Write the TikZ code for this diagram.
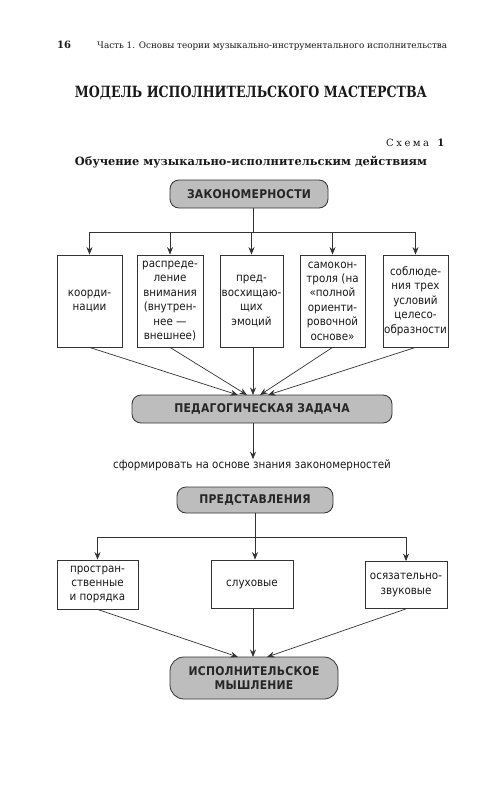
\documentclass[tikz,border=0pt]{standalone}
\usepackage{fontspec}
\setmainfont{DejaVu Sans}[FakeStretch=0.9]
\newfontfamily\hdrfont{DejaVu Serif}
\usetikzlibrary{arrows.meta}
\definecolor{boxgray}{HTML}{BDBDBD}
\definecolor{linegray}{HTML}{333333}
\tikzset{
  hdr/.style={font=\hdrfont, text=black!90, inner sep=0pt},
  txt/.style={font=\fontsize{11.5}{14.4}\selectfont, align=center, inner sep=0pt, text=black!90},
  plainbox/.style={draw=linegray, line width=0.8pt, align=center, inner sep=0pt,
    font=\fontsize{11.5}{14.4}\selectfont, text=black!90},
  capbox/.style={draw=linegray, fill=boxgray, line width=0.8pt, align=center, inner sep=0pt,
    font=\fontsize{12}{13.5}\selectfont\bfseries\addfontfeatures{LetterSpace=2}, text=black!85},
  conn/.style={draw=linegray, line width=0.7pt},
  arr/.style={conn, -{Stealth[length=7.5pt,width=6pt]}}
}
\begin{document}
\begin{tikzpicture}[x=1pt,y=-1pt]
\useasboundingbox (0,0) rectangle (500,800);
\fill[white] (0,0) rectangle (500,800);

% header
\node[hdr, anchor=west, font=\hdrfont\bfseries\fontsize{10}{11}\selectfont] (pg) at (57,45) {16};
\node[hdr, anchor=west] (run) at (97,46) {\resizebox{350pt}{!}{Часть 1. Основы теории музыкально-инструментального исполнительства}};
\node[hdr] (title) at (251,93) {\resizebox{352pt}{11.5pt}{\bfseries МОДЕЛЬ ИСПОЛНИТЕЛЬСКОГО МАСТЕРСТВА}};
\node[hdr, anchor=east, font=\hdrfont\fontsize{10}{12}\selectfont] (schema) at (447,143) {\addfontfeatures{LetterSpace=25}Схема\ \textbf{1}};
\node[hdr] (sub) at (251,162) {\resizebox{352pt}{!}{\bfseries Обучение музыкально-исполнительским действиям}};

% top
\node[capbox, rounded corners=9pt, minimum width=158pt, minimum height=28pt] (Z) at (249,194) {ЗАКОНОМЕРНОСТИ};

\node[plainbox, minimum width=65pt, minimum height=92pt] (b1) at (89.5,301) {коорди-\\нации};
\node[plainbox, minimum width=66pt, minimum height=92pt] (b2) at (170,301) {распреде-\\ление\\внимания\\(внутрен-\\нее —\\внешнее)};
\node[plainbox, minimum width=63pt, minimum height=92pt] (b3) at (251.5,301) {пред-\\восхищаю-\\щих\\эмоций};
\node[plainbox, minimum width=65pt, minimum height=92pt] (b4) at (332.5,301) {самокон-\\троля (на\\«полной\\ориенти-\\ровочной\\основе»};
\node[plainbox, minimum width=65pt, minimum height=92pt] (b5) at (415.5,301) {соблюде-\\ния трех\\условий\\целесо-\\образности};

\coordinate (hb) at (253,232);
\draw[conn] (Z.south -| hb) -- (hb);
\draw[conn] (b1.north |- hb) -- (b5.north |- hb);
\foreach \b in {b1,b2,b3,b4,b5}{
  \draw[arr] (\b.north |- hb) -- (\b.north);
}

\node[capbox, rounded corners=9pt, minimum width=260pt, minimum height=28pt] (P) at (262,409) {ПЕДАГОГИЧЕСКАЯ ЗАДАЧА};
\coordinate (pt) at (253,395);
\draw[arr] (b1.south) -- ([xshift=-15pt]pt);
\draw[arr] (b2.south) -- ([xshift=-6pt]pt);
\draw[arr] (b3.south -| pt) -- (pt);
\draw[arr] (b4.south) -- ([xshift=7pt]pt);
\draw[arr] (b5.south) -- ([xshift=15pt]pt);

\node[txt] (form) at (252,465) {сформировать на основе знания закономерностей};
\draw[arr] (P.south -| pt) -- (form.north -| pt);

\node[capbox, rounded corners=9pt, minimum width=156pt, minimum height=26pt] (R) at (255,500) {ПРЕДСТАВЛЕНИЯ};

\node[plainbox, minimum width=81pt, minimum height=49pt] (bA) at (97.5,584.5) {простран-\\ственные\\и порядка};
\node[plainbox, minimum width=82pt, minimum height=48pt] (bB) at (252,584) {слуховые};
\node[plainbox, minimum width=82pt, minimum height=47pt] (bC) at (406,585) {осязательно-\\звуковые};

\coordinate (hb2) at (255,537);
\draw[conn] (R.south) -- (R.south |- hb2);
\draw[conn] (bA.north |- hb2) -- (bC.north |- hb2);
\draw[arr] (bA.north |- hb2) -- (bA.north);
\draw[arr] (R.south |- hb2) -- (R.south |- bB.north);
\draw[arr] (bC.north |- hb2) -- (bC.north);

\node[capbox, rounded corners=14pt, minimum width=168pt, minimum height=42pt] (E) at (254,678) {ИСПОЛНИТЕЛЬСКОЕ\\МЫШЛЕНИЕ};
\coordinate (et) at (253,657);
\draw[arr] (bA.south) -- ([xshift=-15pt]et);
\draw[arr] (bB.south -| et) -- (et);
\draw[arr] (bC.south) -- ([xshift=14pt]et);
\end{tikzpicture}
\end{document}
